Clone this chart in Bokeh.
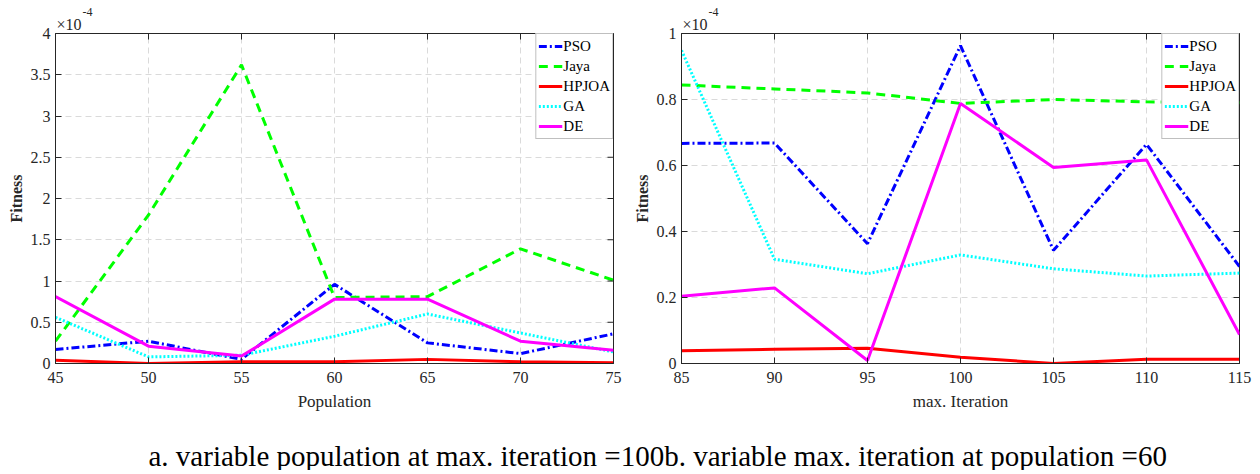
import math
from bokeh.plotting import figure
from bokeh.models import Range1d, FixedTicker, Label, Title
from bokeh.layouts import column, row
from bokeh.embed import file_html
from bokeh.resources import INLINE

# ---------------- data (values in units of 1e-4) ----------------
population = [45, 50, 55, 60, 65, 70, 75]
pso_a   = [0.17, 0.27, 0.05, 0.96, 0.25, 0.12, 0.36]
jaya_a  = [0.27, 1.80, 3.62, 0.80, 0.81, 1.39, 1.01]
hpjoa_a = [0.04, 0.00, 0.02, 0.02, 0.05, 0.02, 0.01]
ga_a    = [0.56, 0.08, 0.10, 0.33, 0.60, 0.37, 0.14]
de_a    = [0.81, 0.21, 0.09, 0.78, 0.78, 0.27, 0.16]

iteration = [85, 90, 95, 100, 105, 110, 115]
pso_b   = [0.667, 0.668, 0.363, 0.963, 0.343, 0.664, 0.294]
jaya_b  = [0.844, 0.832, 0.820, 0.788, 0.800, 0.793, 0.790]
hpjoa_b = [0.039, 0.043, 0.046, 0.019, 0.000, 0.013, 0.013]
ga_b    = [0.949, 0.316, 0.272, 0.329, 0.287, 0.265, 0.274]
de_b    = [0.204, 0.229, 0.009, 0.788, 0.594, 0.617, 0.088]

xticks_a = [45, 50, 55, 60, 65, 70, 75]
yticks_a = [0, 0.5, 1, 1.5, 2, 2.5, 3, 3.5, 4]
xticks_b = [85, 90, 95, 100, 105, 110, 115]
yticks_b = [0, 0.2, 0.4, 0.6, 0.8, 1]

exp_base = "\u00d710"
exp_power = "-4"
caption = "a. variable population at max. iteration =100b. variable max. iteration at population =60"

FONT = "Liberation Serif"
TXT = "#262626"


def make(xs, series, xr, yr, xt, yt, xlabel, bl, bt, br, bb, w, h):
    p = figure(width=w, height=h, output_backend="svg", toolbar_location=None,
               x_range=Range1d(*xr), y_range=Range1d(*yr),
               min_border_left=bl, min_border_top=bt, min_border_right=br,
               min_border_bottom=bb)
    p.outline_line_color = TXT
    p.outline_line_width = 1
    styles = [
        ("PSO", "#0000FF", "8 3 2 3"),
        ("Jaya", "#00FF00", "9 6"),
        ("HPJOA", "#FF0000", "solid"),
        ("GA", "#00FFFF", "2 2"),
        ("DE", "#FF00FF", "solid"),
    ]
    for (name, col, dash), ys in zip(styles, series):
        p.line(xs, ys, line_color=col, line_width=3, line_dash=dash,
               legend_label=name)
    # inward ticks on top and right edges (box on)
    p.scatter(xt, [yr[1]] * len(xt), marker="dash", angle=math.pi / 2,
              size=12, line_color=TXT, line_width=1)
    p.scatter([xr[1]] * len(yt), yt, marker="dash", size=12,
              line_color=TXT, line_width=1)
    p.xaxis.ticker = FixedTicker(ticks=xt)
    p.yaxis.ticker = FixedTicker(ticks=yt)
    p.xaxis.axis_label = xlabel
    p.yaxis.axis_label = "Fitness"
    for ax in p.xaxis + p.yaxis:
        ax.major_tick_in = 6
        ax.major_tick_out = 0
        ax.minor_tick_line_color = None
        ax.axis_line_color = TXT
        ax.major_tick_line_color = TXT
        ax.major_label_text_font = FONT
        ax.major_label_text_color = TXT
        ax.major_label_text_font_size = "16px"
        ax.axis_label_text_font = FONT
        ax.axis_label_text_font_style = "normal"
        ax.axis_label_text_color = TXT
        ax.axis_label_text_font_size = "17px"
    p.xaxis.major_label_standoff = 8
    p.xaxis.axis_label_standoff = 6
    p.yaxis.major_label_standoff = 5
    p.yaxis.axis_label_standoff = 3
    p.yaxis.axis_label_text_font_style = "bold"
    p.yaxis.axis_label_text_font_size = "16px"
    for g in (p.xgrid[0], p.ygrid[0]):
        g.grid_line_color = "#dadada"
        g.grid_line_dash = "6 4"
        g.grid_line_width = 1
    p.xgrid.ticker = FixedTicker(ticks=xt)
    p.ygrid.ticker = FixedTicker(ticks=yt)
    lg = p.legend[0]
    lg.location = "top_right"
    lg.margin = 0
    lg.padding = 2
    lg.spacing = 0
    lg.label_text_font = FONT
    lg.label_text_font_size = "15px"
    lg.label_text_color = "#000000"
    lg.label_height = 20
    lg.glyph_height = 20
    lg.glyph_width = 24
    lg.label_standoff = 1
    lg.border_line_color = "#7f7f7f"
    lg.border_line_width = 1
    lg.background_fill_alpha = 1
    # exponent: power as the outer title, base as an inner title next to frame
    p.title.text = exp_power
    p.title.align = "left"
    p.title.offset = 27
    p.title.standoff = -7
    p.title.text_font = FONT
    p.title.text_font_size = "12px"
    p.title.text_font_style = "normal"
    p.title.text_color = TXT
    p.add_layout(Title(text=exp_base, align="left", offset=1, standoff=2,
                       text_font=FONT, text_font_size="16px",
                       text_font_style="normal", text_color=TXT), "above")
    return p


p1 = make(population, [pso_a, jaya_a, hpjoa_a, ga_a, de_a], (45, 75), (0, 4),
          xticks_a, yticks_a, "Population", 55, 33, 17, 55, 630, 420)
p2 = make(iteration, [pso_b, jaya_b, hpjoa_b, ga_b, de_b], (85, 115), (0, 1),
          xticks_b, yticks_b, "max. Iteration", 47, 27, 21, 57, 630, 420)

p3 = figure(width=1260, height=50, output_backend="svg", toolbar_location=None,
            x_range=Range1d(0, 1260), y_range=Range1d(0, 50),
            min_border=0)
p3.outline_line_color = None
p3.xaxis.visible = False
p3.yaxis.visible = False
p3.xgrid.visible = False
p3.ygrid.visible = False
p3.add_layout(Label(x=148, y=15, text=caption, text_font=FONT,
                    text_font_size="29px", text_color="#000000",
                    text_baseline="middle", text_align="left"))

layout = column(row(p1, p2), p3)
open("out.html", "w").write(file_html(layout, INLINE))
